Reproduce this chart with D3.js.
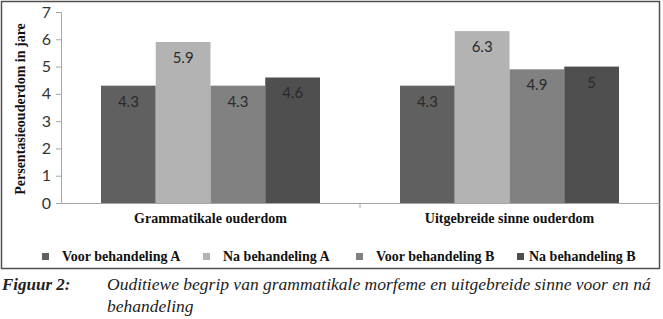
<!DOCTYPE html>
<html lang="en">
<head>
  <meta charset="UTF-8">
  <style type="text/css">
    body {margin:0; background:#fff;}
  </style>
  <title>Figuur 2</title>
</head>
<body>
  <svg id="chart" width="663" height="319"></svg>

  <script src="https://d3js.org/d3.v7.min.js"></script>
  <script type="text/javascript">
    var categories = ["Grammatikale ouderdom", "Uitgebreide sinne ouderdom"];
    var series = ["Voor behandeling A", "Na behandeling A", "Voor behandeling B", "Na behandeling B"];
    var voorA = [4.3, 4.3];
    var naA   = [5.9, 6.3];
    var voorB = [4.3, 4.9];
    var naB   = [4.6, 5];
    var yTicks = [0, 1, 2, 3, 4, 5, 6, 7];
    var colors = ["#606060", "#b3b3b3", "#818181", "#4f4f4f"];

    var values = [voorA, naA, voorB, naB];
    var data = categories.map(function(c, i) {
      return {cat: c, vals: series.map(function(s, j) { return {s: s, v: values[j][i], k: j}; })};
    });

    var SERIF = "'Liberation Serif', 'DejaVu Serif'";
    var SANS = "Lato, 'Open Sans', sans-serif";

    var svg = d3.select("#chart");

    // outer frame
    svg.append("rect")
      .attr("x", 1.5).attr("y", 1.5)
      .attr("width", 658).attr("height", 267)
      .attr("fill", "none")
      .attr("stroke", "#505050")
      .attr("stroke-width", 1.5);

    var plotL = 61, plotR = 659, plotT = 12, plotB = 203;

    var x0 = d3.scaleBand().domain(categories).range([plotL, plotR]).padding(0);
    var x1 = d3.scaleBand().domain(series).range([40, x0.bandwidth() - 40]).padding(0);
    var y = d3.scaleLinear().domain([0, 7]).range([plotB, plotT]);

    // y axis
    var yAxis = svg.append("g")
      .attr("transform", "translate(" + plotL + ",0)")
      .call(d3.axisLeft(y).tickValues(yTicks).tickFormat(d3.format("d")).tickSize(5).tickPadding(5));
    yAxis.selectAll("line, path").attr("stroke", "#a6a6a6");
    yAxis.selectAll("text")
      .style("font-family", SANS)
      .style("font-size", "16px")
      .attr("fill", "#333");

    // bars
    var groups = svg.selectAll(".grp")
      .data(data)
      .enter().append("g")
      .attr("class", "grp")
      .attr("transform", function(d) { return "translate(" + x0(d.cat) + ",0)"; });

    groups.selectAll("rect")
      .data(function(d) { return d.vals; })
      .enter().append("rect")
      .attr("x", function(d) { return x1(d.s); })
      .attr("y", function(d) { return y(d.v); })
      .attr("width", x1.bandwidth())
      .attr("height", function(d) { return plotB - y(d.v); })
      .attr("fill", function(d) { return colors[d.k]; });

    groups.selectAll(".lbl")
      .data(function(d) { return d.vals; })
      .enter().append("text")
      .attr("class", "lbl")
      .attr("x", function(d) { return x1(d.s) + x1.bandwidth() / 2; })
      .attr("y", function(d) { return y(d.v) + 21; })
      .attr("text-anchor", "middle")
      .style("font-family", SANS)
      .style("font-size", "15px")
      .attr("fill", "#2a2a2a")
      .text(function(d) { return d.v; });

    // x axis
    var xAxis = svg.append("g")
      .attr("transform", "translate(0," + plotB + ")")
      .call(d3.axisBottom(x0).tickSize(0).tickFormat(""));
    xAxis.select("path").attr("stroke", "#a6a6a6");
    xAxis.selectAll(".tick").remove();
    xAxis.selectAll(".sep")
      .data(categories.slice(1))
      .enter().append("line")
      .attr("x1", function(d) { return x0(d); })
      .attr("x2", function(d) { return x0(d); })
      .attr("y1", 0).attr("y2", 5)
      .attr("stroke", "#a6a6a6");

    svg.selectAll(".cat")
      .data(categories)
      .enter().append("text")
      .attr("x", function(d) { return x0(d) + x0.bandwidth() / 2; })
      .attr("y", 223)
      .attr("text-anchor", "middle")
      .style("font-family", SERIF)
      .style("font-weight", "bold")
      .style("font-size", "14px")
      .attr("fill", "#111")
      .text(function(d) { return d; });

    // y axis title
    svg.append("text")
      .attr("transform", "translate(25,109) rotate(-90)")
      .attr("text-anchor", "middle")
      .style("font-family", SERIF)
      .style("font-weight", "bold")
      .style("font-size", "14px")
      .attr("fill", "#111")
      .text("Persentasieouderdom in jare");

    // legend
    var legendX = [42, 203, 356, 517];
    var leg = svg.selectAll(".leg")
      .data(series)
      .enter().append("g")
      .attr("class", "leg")
      .attr("transform", function(d, i) { return "translate(" + legendX[i] + ",253)"; });
    leg.append("rect")
      .attr("width", 7).attr("height", 7)
      .attr("fill", function(d, i) { return colors[i]; });
    leg.append("text")
      .attr("x", function(d, i) { return i == 3 ? 12 : 20; })
      .attr("y", 8)
      .style("font-family", SERIF)
      .style("font-weight", "bold")
      .style("font-size", "14px")
      .attr("fill", "#111")
      .text(function(d) { return d; });

    // caption
    svg.append("text")
      .attr("x", 2).attr("y", 290)
      .style("font-family", SERIF)
      .style("font-weight", "bold").style("font-style", "italic")
      .style("font-size", "17px")
      .attr("fill", "#222")
      .text("Figuur 2:");
    svg.append("text")
      .attr("x", 107).attr("y", 290)
      .style("font-family", SERIF)
      .style("font-style", "italic")
      .style("font-size", "17.5px")
      .attr("fill", "#222")
      .text("Ouditiewe begrip van grammatikale morfeme en uitgebreide sinne voor en ná");
    svg.append("text")
      .attr("x", 107).attr("y", 312)
      .style("font-family", SERIF)
      .style("font-style", "italic")
      .style("font-size", "17.5px")
      .attr("fill", "#222")
      .text("behandeling");
  </script>
</body>
</html>
